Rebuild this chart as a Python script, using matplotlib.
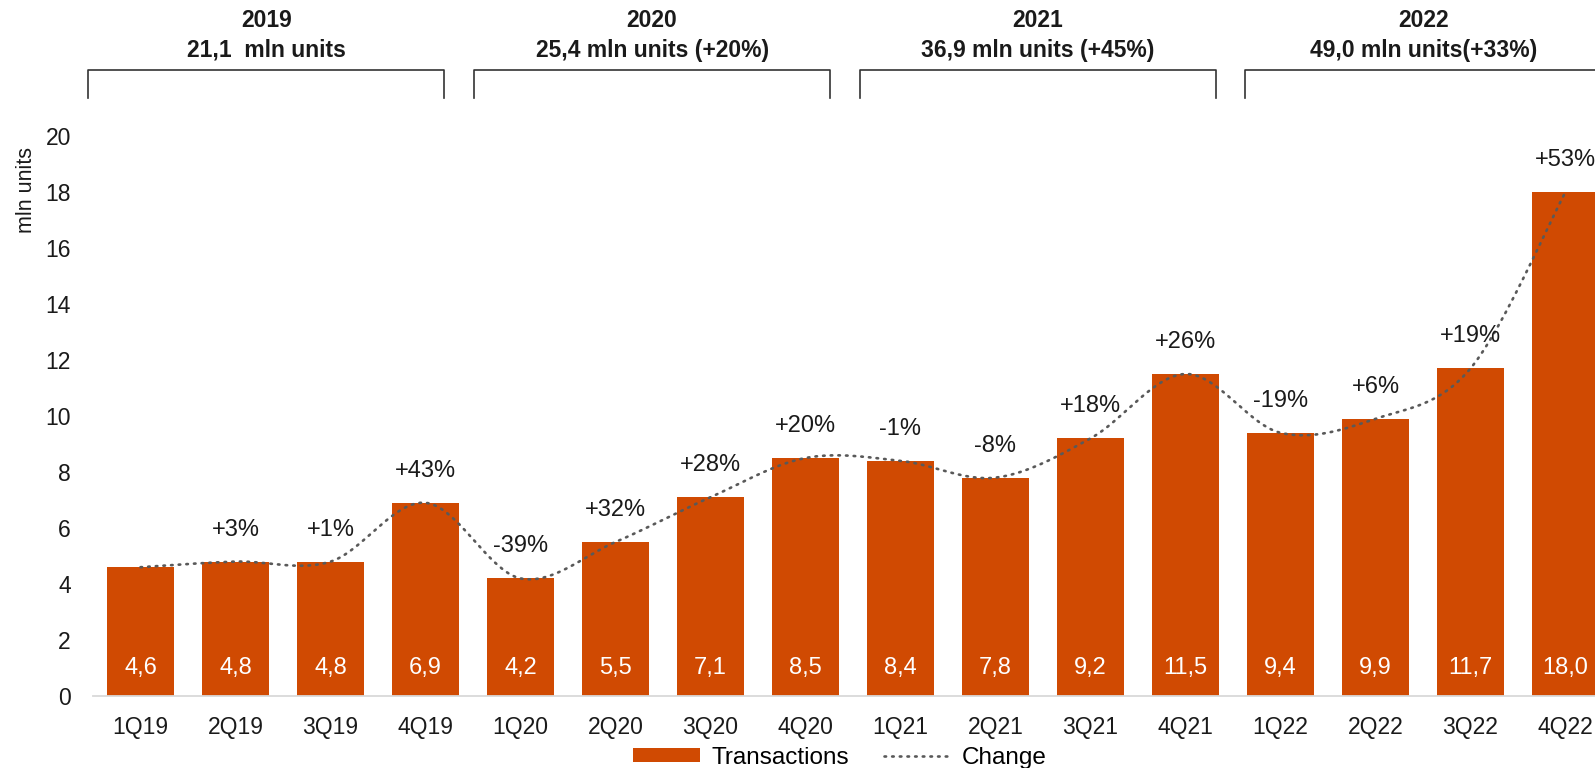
import numpy as np
import matplotlib.pyplot as plt
from matplotlib.patches import Patch
from matplotlib.lines import Line2D
import matplotlib.transforms as mtransforms

plt.rcParams['font.family'] = ['Liberation Sans', 'DejaVu Sans']

# Dados
quarters = ['1Q19', '2Q19', '3Q19', '4Q19', '1Q20', '2Q20', '3Q20', '4Q20',
            '1Q21', '2Q21', '3Q21', '4Q21', '1Q22', '2Q22', '3Q22', '4Q22']
values = [4.6, 4.8, 4.8, 6.9, 4.2, 5.5, 7.1, 8.5,
          8.4, 7.8, 9.2, 11.5, 9.4, 9.9, 11.7, 18.0]
changes = ['', '+3%', '+1%', '+43%', '-39%', '+32%', '+28%', '+20%',
           '-1%', '-8%', '+18%', '+26%', '-19%', '+6%', '+19%', '+53%']
year_titles = ['2019', '2020', '2021', '2022']
year_totals = ['21,1  mln units', '25,4 mln units (+20%)',
               '36,9 mln units (+45%)', '49,0 mln units(+33%)']

bar_color = '#D04A02'
line_color = '#595959'
text_color = '#1a1a1a'

fig = plt.figure(figsize=(15.95, 7.68), dpi=100)
W, H = 1595, 768
# eixo vai além da borda direita (como no original, cortado)
ax = fig.add_axes([93 / W, (H - 696) / H, 1520 / W, 560 / H])

x = np.arange(len(quarters))
ax.bar(x, values, width=0.713, color=bar_color, zorder=2)

# linha suavizada (bezier tipo Catmull-Rom, como a linha suave do Excel)
pts = np.column_stack([x, values]).astype(float)
curve = []
t = np.linspace(0, 1, 40)
for i in range(len(pts) - 1):
    p0 = pts[max(i - 1, 0)]
    p1 = pts[i]
    p2 = pts[i + 1]
    p3 = pts[min(i + 2, len(pts) - 1)]
    c1 = p1 + (p2 - p0) / 6
    c2 = p2 - (p3 - p1) / 6
    seg = ((1 - t) ** 3)[:, None] * p1 + (3 * (1 - t) ** 2 * t)[:, None] * c1 \
        + (3 * (1 - t) * t ** 2)[:, None] * c2 + (t ** 3)[:, None] * p2
    curve.append(seg if i == 0 else seg[1:])
curve = np.vstack(curve)
ax.plot(curve[:, 0], curve[:, 1], color=line_color, lw=1.9,
        dashes=(0.6, 2.3), dash_capstyle='round', zorder=3)

# rótulos
for xi, v, c in zip(x, values, changes):
    ax.text(xi, 1.0, f'{v:.1f}'.replace('.', ','), ha='center', va='center',
            color='white', fontsize=17, zorder=4)
    if c:
        ax.annotate(c, (xi, v), xytext=(0, 23), textcoords='offset points',
                    ha='center', va='center', fontsize=17, color=text_color)

ax.set_xlim(-0.5, len(quarters) - 0.5)
ax.set_ylim(0, 20)
ax.set_yticks(range(0, 21, 2))
ax.set_xticks(x)
ax.set_xticklabels(quarters)
ax.tick_params(axis='both', length=0, labelsize=16.5, colors=text_color)
ax.tick_params(axis='x', pad=14.5)
ax.tick_params(axis='y', pad=16)
for s in ['top', 'right', 'left']:
    ax.spines[s].set_visible(False)
ax.spines['bottom'].set_color('#D9D9D9')
ax.spines['bottom'].set_linewidth(1.3)

fig.text(26 / W, 1 - 190 / H, 'mln units', rotation=90, ha='center',
         va='center', fontsize=15.5, color=text_color)

# chaves dos anos
trans = mtransforms.blended_transform_factory(ax.transData, fig.transFigure)
for k, (yt, tot) in enumerate(zip(year_titles, year_totals)):
    left = k * 4.06 - 0.55
    right = left + 3.75
    y_top = 1 - 70 / H
    y_bot = 1 - 98 / H
    ax.add_line(Line2D([left, left, right, right], [y_bot, y_top, y_top, y_bot],
                       transform=trans, color='#333333', lw=1.2,
                       clip_on=False))
    mid = (left + right) / 2
    ax.text(mid, 1 - 27 / H, yt, transform=trans, ha='center', va='baseline',
            fontsize=16.5, fontweight='bold', color=text_color)
    ax.text(mid, 1 - 57 / H, tot, transform=trans, ha='center', va='baseline',
            fontsize=16.5, fontweight='bold', color=text_color)

handles = [Patch(facecolor=bar_color, label='Transactions'),
           Line2D([], [], color=line_color, lw=1.9, dashes=(0.6, 2.3),
                  dash_capstyle='round', label='Change')]
fig.legend(handles=handles, loc='center', bbox_to_anchor=(840 / W, 10 / H),
           ncol=2, frameon=False, fontsize=17.5, handlelength=2.75,
           handleheight=0.5, handletextpad=0.45, columnspacing=1.45,
           borderpad=0, borderaxespad=0)

fig.savefig('out.png', dpi=100)
